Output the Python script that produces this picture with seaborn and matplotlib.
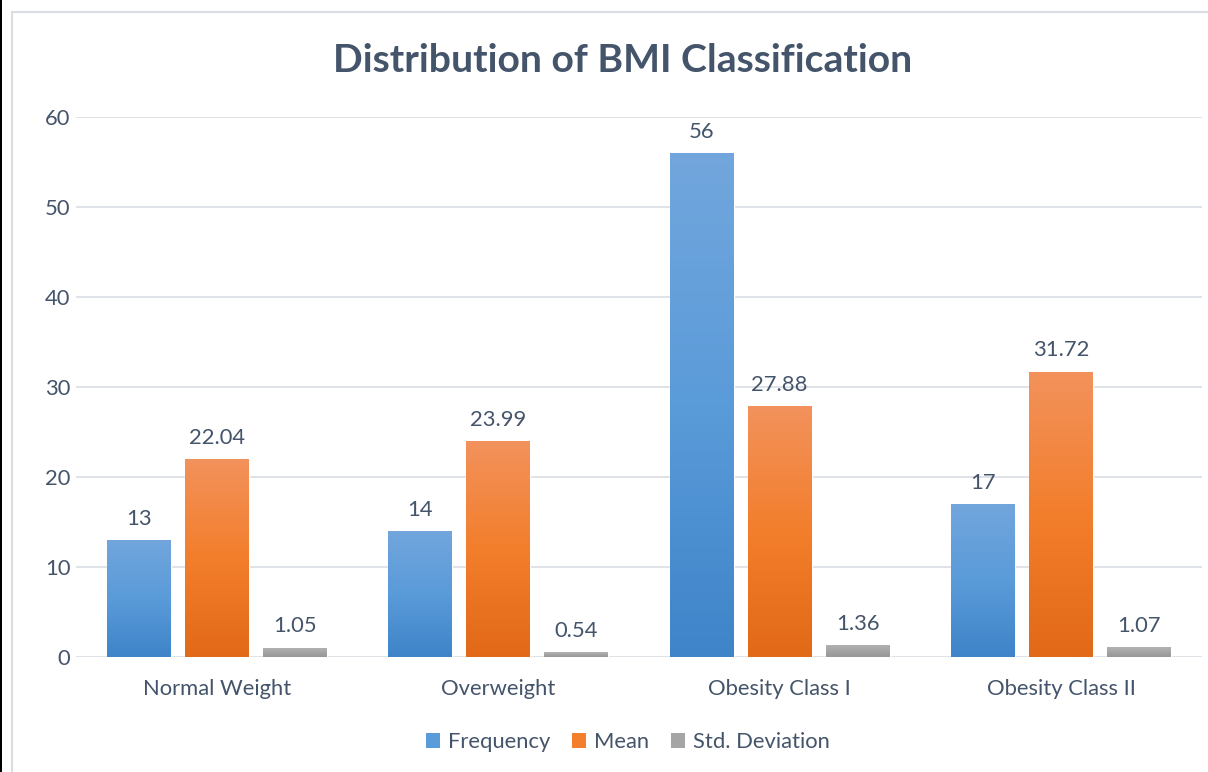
import numpy as np
import pandas as pd
import seaborn as sns
import matplotlib.pyplot as plt
from matplotlib.colors import LinearSegmentedColormap
from matplotlib.patches import Rectangle
from matplotlib.lines import Line2D

# Chart data
categories = ["Normal Weight", "Overweight", "Obesity Class I", "Obesity Class II"]
series = ["Frequency", "Mean", "Std. Deviation"]
frequency = [13, 14, 56, 17]
mean_bmi = [22.04, 23.99, 27.88, 31.72]
std_dev = [1.05, 0.54, 1.36, 1.07]
y_ticks = [0, 10, 20, 30, 40, 50, 60]

df = pd.DataFrame({
    "Category": categories * 3,
    "Series": [series[0]] * 4 + [series[1]] * 4 + [series[2]] * 4,
    "Value": frequency + mean_bmi + std_dev,
})
label_text = {
    "Frequency": [f"{v:d}" for v in frequency],
    "Mean": [f"{v:.2f}" for v in mean_bmi],
    "Std. Deviation": [f"{v:.2f}" for v in std_dev],
}

# Base colours and vertical gradients (top -> bottom)
base = {"Frequency": "#5B9BD5", "Mean": "#ED7D31", "Std. Deviation": "#A5A5A5"}
grad = {
    "Frequency": ["#72A6DD", "#5A9BD9", "#3F84C9"],
    "Mean": ["#F2925C", "#F37E2C", "#E16917"],
    "Std. Deviation": ["#B3B3B3", "#A5A5A5", "#979797"],
}

text_col = "#44546A"
grid_col = "#D9DDE2"
fs = 15.8

sns.set_theme(style="white")
plt.rcParams["font.family"] = ["Lato", "DejaVu Sans"]

W, H = 1208, 772
fig = plt.figure(figsize=(W / 100, H / 100), dpi=100)
fig.patch.set_facecolor("white")

ax = fig.add_axes([76 / W, 1 - 657 / H, (1202 - 76) / W, (657 - 117) / H])
sns.barplot(
    data=df, x="Category", y="Value", hue="Series",
    order=categories, hue_order=series, palette=base,
    width=0.831, gap=0.18, saturation=1, legend=False, ax=ax,
)

ax.set_ylim(0, 60)
ax.set_xlim(-0.5, 3.5)
ax.set_yticks(y_ticks)
ax.set_xlabel("")
ax.set_ylabel("")
for s in ax.spines.values():
    s.set_visible(False)
ax.yaxis.grid(True, color=grid_col, linewidth=1.2)
ax.set_axisbelow(True)
ax.tick_params(axis="both", length=0, labelsize=fs, colors=text_col)
ax.tick_params(axis="y", pad=4)
ax.tick_params(axis="x", pad=16)

# Gradient fill clipped to each bar, plus value labels
for container, name in zip(ax.containers, series):
    cmap = LinearSegmentedColormap.from_list(name, grad[name][::-1])
    gradient = np.linspace(0, 1, 256).reshape(-1, 1)
    for bar in container:
        x0, y0 = bar.get_x(), bar.get_y()
        w, h = bar.get_width(), bar.get_height()
        img = ax.imshow(gradient, cmap=cmap, aspect="auto", origin="lower",
                        extent=[x0, x0 + w, y0, y0 + h], zorder=bar.get_zorder() + 0.1)
        img.set_clip_path(bar)
    ax.bar_label(container, labels=label_text[name], padding=8,
                 fontsize=fs, color=text_col, clip_on=False)

ax.set_xlim(-0.5, 3.5)
ax.set_ylim(0, 60)

# Title
fig.text(0.5 + 19 / W, 1 - 60 / H, "Distribution of BMI Classification",
         ha="center", va="center", fontsize=28.2, fontweight="bold", color=text_col)

# Legend
handles = [Rectangle((0, 0), 1, 1, facecolor=grad[s][1], edgecolor="none") for s in series]
fig.legend(handles, series, loc="center", bbox_to_anchor=(0.5 + 24 / W, 1 - 742 / H),
           ncol=3, frameon=False, fontsize=fs, labelcolor=text_col,
           handlelength=0.65, handleheight=0.65, handletextpad=0.35, columnspacing=1.0)

# Chart-area border and left edge strip
fig.add_artist(Line2D([12 / W, 12 / W], [0, 1 - 12 / H], transform=fig.transFigure,
                      color=grid_col, linewidth=1.5))
fig.add_artist(Line2D([12 / W, 1], [1 - 12 / H, 1 - 12 / H], transform=fig.transFigure,
                      color=grid_col, linewidth=1.5))
fig.add_artist(Rectangle((0, 0), 1.5 / W, 1, transform=fig.transFigure,
                         facecolor="black", edgecolor="none"))

fig.savefig("out.png", dpi=100, facecolor="white")
